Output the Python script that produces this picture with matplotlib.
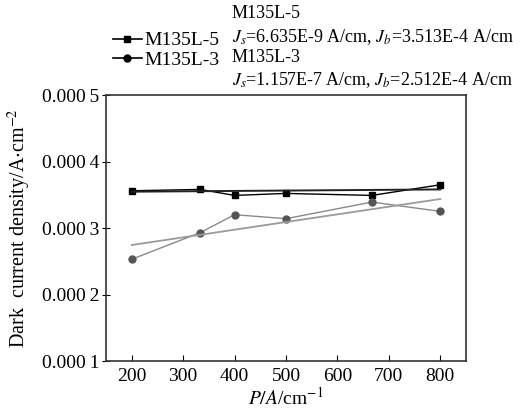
import matplotlib
matplotlib.use("Agg")
import matplotlib.pyplot as plt
from matplotlib.lines import Line2D

plt.rcParams['font.family'] = ['Liberation Serif', 'DejaVu Serif']
plt.rcParams['mathtext.fontset'] = 'stix'

# measured points
p = [200, 333, 400, 500, 667, 800]
j_l5 = [3.56e-4, 3.58e-4, 3.49e-4, 3.52e-4, 3.49e-4, 3.65e-4]
j_l3 = [2.53e-4, 2.93e-4, 3.20e-4, 3.14e-4, 3.39e-4, 3.25e-4]

# fitted lines (end points)
p_fit = [200, 800]
fit_l5 = [3.546e-4, 3.58e-4]
fit_l3 = [2.744e-4, 3.436e-4]

yticks = [0.0001, 0.0002, 0.0003, 0.0004, 0.0005]
ylabels = ['0.000\u20091', '0.000\u20092', '0.000\u20093', '0.000\u20094', '0.000\u20095']
xticks = [200, 300, 400, 500, 600, 700, 800]

fig = plt.figure(figsize=(5.23, 4.09), dpi=100)
ax = fig.add_axes([106 / 523, 1 - 361 / 409, 360 / 523, 266 / 409])

ax.plot(p, j_l5, '-s', color='black', lw=1.0, ms=5)
ax.plot(p, j_l3, '-o', color='#8a8a8a', lw=1.0, ms=5,
        markerfacecolor='#555555', markeredgecolor='#555555')
ax.plot(p_fit, fit_l5, '-', color='#222222', lw=1.4)
ax.plot(p_fit, fit_l3, '-', color='#9a9a9a', lw=1.3)

ax.set_xlim(150, 850)
ax.set_ylim(0.0001, 0.0005)
ax.set_xticks(xticks)
ax.set_yticks(yticks)
ax.set_yticklabels(ylabels)
ax.tick_params(axis='x', direction='in', length=4, labelsize=14, pad=5)
ax.tick_params(axis='y', direction='inout', length=6, labelsize=14, pad=2)
for s in ax.spines.values():
    s.set_linewidth(1.2)
    s.set_color('#333333')

ax.set_xlabel('$P/A$/cm$^{-1}$', fontsize=14, labelpad=1)
ax.set_ylabel('Dark  current density/A$\\cdot$cm$^{-2}$', fontsize=14.5, labelpad=6)

h5 = Line2D([], [], color='black', marker='s', ms=5, lw=1.2)
h3 = Line2D([], [], color='black', marker='o', ms=5, lw=1.2)
fig.legend(handles=[h5, h3], labels=['M135L-5', 'M135L-3'], loc='upper left',
           bbox_to_anchor=(103 / 523, 1 - 22 / 409),
           frameon=False, fontsize=14, handlelength=1.5, handletextpad=0.15,
           labelspacing=0.1, borderpad=0)

fig.text(232 / 523, 1 - 13 / 409, 'M135L-5', fontsize=13, va='center')
fig.text(232 / 523, 1 - 37 / 409, '$J_s$=6.635E-9 A/cm, $J_b$=3.513E-4 A/cm',
         fontsize=13, va='center')
fig.text(232 / 523, 1 - 58 / 409, 'M135L-3', fontsize=13, va='center')
fig.text(232 / 523, 1 - 80 / 409, '$J_s$=1.157E-7 A/cm, $J_b$=2.512E-4 A/cm',
         fontsize=13, va='center')

fig.savefig('out.png', dpi=100)
